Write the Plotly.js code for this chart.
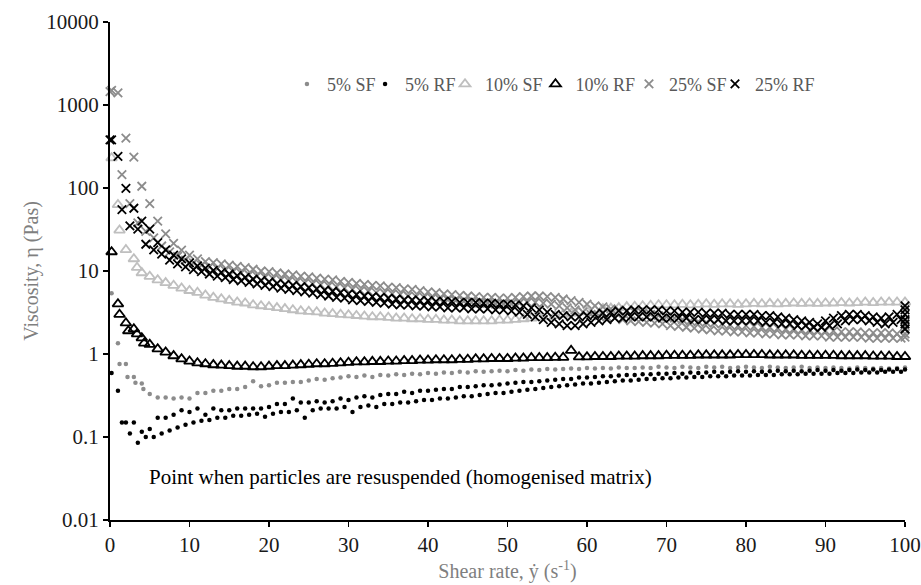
<!DOCTYPE html>
<html>
<head>
<meta charset="utf-8">
<script src="https://cdn.plot.ly/plotly-3.0.1.min.js"></script>
<style>html,body{margin:0;padding:0;background:#fff;}#chart{width:921px;height:585px;}</style>
</head>
<body>
<div id="chart"></div>
<script>
// Shear-rate grids (s^-1)
const shear = [0.2,1,2,3,4,5,6,7,8,9,10,11,12,13,14,15,16,17,18,19,20,21,22,23,24,25,26,27,28,29,30,
  31,32,33,34,35,36,37,38,39,40,41,42,43,44,45,46,47,48,49,50,51,52,53,54,55,56,57,58,59,60,
  61,62,63,64,65,66,67,68,69,70,71,72,73,74,75,76,77,78,79,80,81,82,83,84,85,86,87,88,89,90,
  91,92,93,94,95,96,97,98,99,100];
const shear2 = [1.5,2.5,3.5,4.5,5.5,6.5,7.5,8.5,9.5,10.5,11.5,12.5,13.5,14.5,15.5,16.5,17.5,18.5,19.5,20.5,
  21.5,22.5,23.5,24.5,25.5,26.5,27.5,28.5,29.5,30.5,31.5,32.5,33.5,34.5,35.5,36.5,37.5,38.5,39.5,40.5,
  41.5,42.5,43.5,44.5,45.5,46.5,47.5,48.5,49.5,50.5,51.5,52.5,53.5,54.5,55.5,56.5,57.5,58.5,59.5,60.5,
  61.5,62.5,63.5,64.5,65.5,66.5,67.5,68.5,69.5,70.5,71.5,72.5,73.5,74.5,75.5,76.5,77.5,78.5,79.5,80.5,
  81.5,82.5,83.5,84.5,85.5,86.5,87.5,88.5,89.5,90.5,91.5,92.5,93.5,94.5,95.5,96.5,97.5,98.5,99.5];

// 5% SF
const sf5 = [5.4,1.35,0.76,0.53,0.44,0.33,0.30,0.30,0.29,0.30,0.29,0.34,0.34,0.36,0.36,0.38,0.38,0.40,0.47,0.41,0.42,0.45,0.45,0.46,0.46,0.48,0.50,0.49,0.51,0.52,0.54,
  0.53,0.55,0.53,0.56,0.55,0.57,0.56,0.58,0.57,0.59,
  0.58,0.60,0.59,0.61,0.60,0.62,0.61,0.62,0.63,0.62,
  0.64,0.63,0.65,0.64,0.66,0.65,0.66,0.67,0.66,0.68,
  0.67,0.68,0.67,0.69,0.68,0.68,0.69,0.68,0.70,0.69,
  0.68,0.70,0.69,0.68,0.70,0.69,0.70,0.68,0.69,0.70,
  0.69,0.68,0.70,0.69,0.68,0.69,0.70,0.68,0.69,0.68,
  0.69,0.68,0.67,0.69,0.68,0.67,0.68,0.67,0.68,0.69];
const sf5_xe = [1.2,2.2,3.2,4.2];
const sf5_ye = [0.76,0.53,0.45,0.38];

// 5% RF
const rf5 = [0.59,0.36,0.15,0.15,0.116,0.125,0.17,0.17,0.185,0.21,0.20,0.22,0.185,0.22,0.21,0.21,0.22,0.22,0.22,0.22,0.23,0.25,0.25,0.29,0.26,0.26,0.27,0.26,0.27,0.29,0.28,
  0.30,0.31,0.30,0.32,0.33,0.33,0.35,0.34,0.36,0.36,
  0.37,0.38,0.38,0.40,0.40,0.41,0.42,0.42,0.43,0.44,
  0.45,0.46,0.46,0.47,0.48,0.49,0.50,0.50,0.52,0.52,
  0.53,0.54,0.54,0.55,0.56,0.56,0.57,0.57,0.58,0.58,
  0.59,0.58,0.60,0.59,0.60,0.61,0.60,0.61,0.62,0.61,
  0.62,0.61,0.62,0.63,0.62,0.63,0.62,0.63,0.64,0.63,
  0.64,0.63,0.64,0.65,0.64,0.65,0.64,0.65,0.66,0.65];
const rf5_b = [0.15,0.11,0.085,0.10,0.10,0.11,0.12,0.13,0.14,0.15,0.157,0.16,0.17,0.17,0.18,0.18,0.185,0.19,0.175,0.19,
  0.20,0.20,0.21,0.17,0.21,0.22,0.22,0.22,0.23,0.20,
  0.23,0.24,0.23,0.25,0.25,0.26,0.26,0.27,0.28,0.28,
  0.29,0.29,0.30,0.31,0.31,0.32,0.33,0.34,0.34,0.35,
  0.36,0.37,0.38,0.39,0.40,0.41,0.42,0.43,0.44,0.44,
  0.45,0.46,0.47,0.48,0.48,0.49,0.50,0.50,0.51,0.51,
  0.52,0.52,0.53,0.53,0.54,0.54,0.54,0.55,0.55,0.55,
  0.56,0.56,0.56,0.57,0.57,0.57,0.58,0.58,0.58,0.58,
  0.59,0.59,0.59,0.60,0.60,0.60,0.61,0.61,0.61];

// 10% SF
const sf10 = [230,63,18,14,9.5,8.6,7.8,7.2,6.7,6.2,5.8,5.5,5.1,4.8,4.6,4.4,4.2,4.1,3.9,3.8,3.7,3.6,3.5,3.4,3.3,3.25,3.2,3.1,3.05,3.0,2.95,
  2.9,2.85,2.8,2.8,2.75,2.7,2.7,2.65,2.65,2.6,
  2.6,2.55,2.55,2.5,2.5,2.5,2.5,2.5,2.55,2.55,
  2.6,2.65,2.7,2.75,2.8,2.9,3.0,3.1,3.2,3.3,
  3.4,3.5,3.55,3.6,3.7,3.75,3.8,3.85,3.9,3.9,
  3.9,3.95,3.9,3.95,4.0,3.95,4.0,4.0,3.95,4.0,
  4.05,4.0,4.05,4.0,4.05,4.1,4.05,4.1,4.05,4.1,
  4.1,4.15,4.1,4.15,4.2,4.15,4.2,4.2,4.2,4.2];
const sf10_xe = [1.2,3.4];
const sf10_ye = [31,11];

// 10% RF
const rf10 = [17,4.0,2.36,2.0,1.56,1.3,1.15,1.05,0.95,0.87,0.82,0.78,0.76,0.74,0.73,0.72,0.71,0.71,0.70,0.70,0.71,0.72,0.72,0.73,0.74,0.75,0.76,0.76,0.77,0.78,0.79,
  0.80,0.80,0.81,0.81,0.82,0.82,0.83,0.83,0.84,0.84,
  0.85,0.85,0.85,0.86,0.86,0.87,0.87,0.88,0.88,0.88,
  0.89,0.89,0.90,0.90,0.90,0.91,0.91,1.1,0.92,0.92,
  0.93,0.93,0.93,0.94,0.94,0.94,0.95,0.95,0.95,0.96,
  0.96,0.96,0.96,0.97,0.97,0.97,0.97,0.97,0.98,0.98,
  0.98,0.98,0.97,0.97,0.97,0.97,0.96,0.96,0.96,0.96,
  0.96,0.95,0.95,0.95,0.95,0.94,0.94,0.94,0.93,0.93];
const rf10_xe = [1.2,2.3,3.4,4.3];
const rf10_ye = [3.0,1.9,1.74,1.35];

// 25% SF
const sf25 = [1500,1400,400,235,105,65,40,28,21.5,17.8,15.5,14,13,12.6,12.2,11.8,11.4,11,10.5,10,9.8,9.5,9.2,9,8.7,8.5,8.2,8,7.8,7.5,7.3,
  7.1,6.9,6.7,6.6,6.4,6.3,6.1,6.0,5.8,5.6,
  5.5,5.3,5.2,5.1,5.0,4.9,4.8,4.8,4.7,4.7,
  4.8,4.9,5.0,5.0,4.9,4.8,4.6,4.4,4.2,4.0,
  3.8,3.7,3.5,3.4,3.3,3.2,3.1,3.0,2.9,2.8,
  2.7,2.6,2.5,2.45,2.4,2.35,2.3,2.25,2.2,2.2,
  2.15,2.1,2.1,2.05,2.0,2.0,1.95,1.95,1.9,1.9,
  1.9,1.85,1.85,1.85,1.8,1.8,1.8,1.8,1.75,1.75];
const sf25_b = [145,65,38,30,25,20,17,15,13.5,12.5,11.8,11.2,10.7,10.2,9.8,9.4,9.0,8.7,8.4,8.1,
  7.8,7.6,7.4,7.2,7.0,6.8,6.6,6.4,6.2,6.0,
  5.8,5.7,5.5,5.4,5.3,5.2,5.0,4.9,4.8,4.7,
  4.6,4.5,4.4,4.3,4.2,4.1,4.1,4.0,4.0,4.0,
  4.1,4.2,4.2,4.1,4.0,3.8,3.6,3.4,3.2,3.0,
  2.9,2.8,2.7,2.6,2.5,2.45,2.4,2.35,2.3,2.2,
  2.15,2.1,2.05,2.0,1.95,1.9,1.9,1.85,1.85,1.8,
  1.8,1.75,1.75,1.7,1.7,1.7,1.65,1.65,1.65,1.6,
  1.6,1.6,1.6,1.6,1.55,1.55,1.55,1.55,1.55];
const sf25_xe = [0,100,100,100,100];
const sf25_ye = [1450,2.5,2.2,2.0,1.6];

// 25% RF
const rf25 = [380,240,99,57,40,32,22,18,15.5,14,12.5,11.5,10.8,10.2,9.6,9.2,8.8,8.4,8.0,7.7,7.4,7.1,6.9,6.7,6.5,6.3,6.1,5.9,5.7,5.5,5.3,
  5.2,5.0,4.9,4.8,4.7,4.6,4.5,4.5,4.4,4.4,
  4.3,4.3,4.3,4.2,4.2,4.2,4.1,4.1,4.0,4.0,
  3.9,3.8,3.6,3.4,3.2,3.0,2.9,2.8,2.8,2.9,
  3.0,3.1,3.2,3.3,3.3,3.4,3.4,3.4,3.4,3.3,
  3.3,3.2,3.2,3.2,3.1,3.1,3.1,3.0,3.0,3.0,
  3.0,2.9,2.9,2.8,2.7,2.6,2.5,2.4,2.3,2.5,
  2.7,2.9,3.0,3.0,2.9,2.8,2.7,2.8,3.0,3.8];
const rf25_b = [55,35,32,21,18,16,13.5,12.2,11.2,10.4,9.8,9.2,8.7,8.3,7.9,7.6,7.3,7.0,6.7,6.5,
  6.2,6.0,5.8,5.6,5.4,5.2,5.0,4.8,4.7,4.5,
  4.4,4.3,4.2,4.1,4.0,3.9,3.9,3.8,3.8,3.7,
  3.7,3.6,3.6,3.6,3.5,3.5,3.5,3.4,3.4,3.3,
  3.2,3.0,2.8,2.6,2.4,2.3,2.2,2.2,2.3,2.4,
  2.5,2.6,2.7,2.7,2.8,2.8,2.8,2.8,2.7,2.7,
  2.7,2.7,2.6,2.6,2.6,2.6,2.5,2.5,2.5,2.5,
  2.5,2.4,2.4,2.3,2.3,2.2,2.2,2.1,2.1,2.2,
  2.3,2.5,2.6,2.6,2.5,2.4,2.3,2.4,2.6];
const rf25_xe = [0,100,100,100,100,100];
const rf25_ye = [380,3.4,3.0,2.6,2.3,2.0];

const seriesNames = ['5% SF','5% RF','10% SF','10% RF','25% SF','25% RF'];
const yTickVals = [0.01,0.1,1,10,100,1000,10000];
const yTickText = ['0.01','0.1','1','10','100','1000','10000'];
const annotationText = 'Point when particles are resuspended (homogenised matrix)';

const FONT = 'Liberation Serif, Times New Roman, serif';
const legendIds = ['legend','legend2','legend3','legend4','legend5','legend6'];
const legendX = [0.2226,0.3208,0.4214,0.5352,0.6528,0.7610];

function tr(i, xs, ys, marker) {
  return {type:'scatter', mode:'markers', name:seriesNames[i], x:xs, y:ys, marker:marker,
          cliponaxis:false, legend:legendIds[i]};
}

const data = [
  tr(0, shear.concat(sf5_xe), sf5.concat(sf5_ye),
     {symbol:'circle', size:4.5, color:'#8c8c8c'}),
  tr(1, shear.concat(shear2), rf5.concat(rf5_b),
     {symbol:'circle', size:4.5, color:'#000000'}),
  tr(2, shear.concat(sf10_xe), sf10.concat(sf10_ye),
     {symbol:'triangle-up-open', size:9.5, color:'#bfbfbf', line:{width:1.8, color:'#bfbfbf'}}),
  tr(3, shear.concat(rf10_xe), rf10.concat(rf10_ye),
     {symbol:'triangle-up-open', size:9.5, color:'#000000', line:{width:1.8, color:'#000000'}}),
  tr(4, shear.concat(shear2, sf25_xe), sf25.concat(sf25_b, sf25_ye),
     {symbol:'x-thin-open', size:8.5, color:'#8c8c8c', line:{width:1.8, color:'#8c8c8c'}}),
  tr(5, shear.concat(shear2, rf25_xe), rf25.concat(rf25_b, rf25_ye),
     {symbol:'x-thin-open', size:8.5, color:'#000000', line:{width:1.8, color:'#000000'}})
];

const layout = {
  width:921, height:585,
  margin:{l:110, r:16, t:22, b:65},
  paper_bgcolor:'#ffffff', plot_bgcolor:'#ffffff',
  font:{family:FONT, size:16, color:'#000000'},
  showlegend:true,
  xaxis:{range:[0,100], dtick:10, tick0:0, showgrid:false, zeroline:false,
         showline:true, linecolor:'#000000', linewidth:2,
         ticks:'outside', ticklen:5, tickwidth:1.5, tickcolor:'#000000',
         tickfont:{family:FONT, size:21, color:'#1a1a1a'},
         title:{text:'Shear rate, ẏ (s<sup>-1</sup>)', font:{family:FONT, size:20, color:'#7f7f7f'}, standoff:8}},
  yaxis:{type:'log', range:[-2,4], tickvals:yTickVals, ticktext:yTickText,
         showgrid:false, zeroline:false, showline:true, linecolor:'#000000', linewidth:2,
         ticks:'outside', ticklen:5, tickwidth:1.5, tickcolor:'#000000',
         tickfont:{family:FONT, size:21, color:'#1a1a1a'},
         title:{text:'Viscosity, η (Pas)', font:{family:FONT, size:20, color:'#7f7f7f'}, standoff:2}},
  annotations:[{text:annotationText, xref:'paper', yref:'paper', x:0.0465, y:0.086,
                xanchor:'left', yanchor:'middle', showarrow:false,
                font:{family:FONT, size:21, color:'#000000'}}]
};
legendIds.forEach(function(id, i) {
  layout[id] = {orientation:'h', x:legendX[i], y:0.875, xanchor:'left', yanchor:'middle',
                font:{family:FONT, size:18, color:'#595959'}, bgcolor:'rgba(0,0,0,0)', itemwidth:30};
});

Plotly.newPlot('chart', data, layout, {displayModeBar:false, staticPlot:true});
</script>
</body>
</html>
